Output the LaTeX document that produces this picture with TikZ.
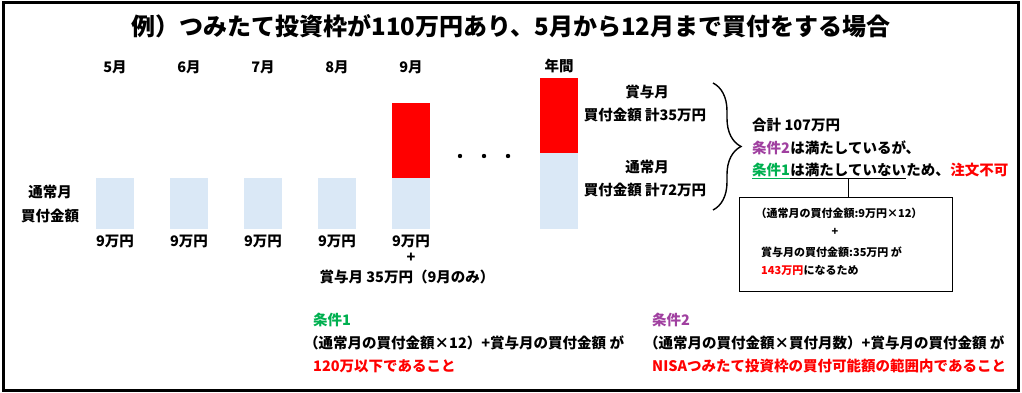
\documentclass[tikz,border=0pt]{standalone}
\usepackage{fontspec}
\setmainfont{Noto Sans CJK JP}
\usetikzlibrary{positioning,decorations.pathreplacing}
\definecolor{barblue}{RGB}{218,232,246}
\definecolor{jred}{RGB}{255,0,0}
\definecolor{jgreen}{RGB}{0,176,80}
\definecolor{jpurple}{RGB}{160,64,160}
\tikzset{
  lbl/.style={font=\bfseries\fontsize{14.5}{16}\selectfont, inner sep=0pt},
  small/.style={font=\bfseries\fontsize{11}{13}\selectfont, inner sep=0pt},
  normalbar/.style={fill=barblue, draw=none, inner sep=0pt, outer sep=0pt, minimum width=38pt},
  bonusbar/.style={fill=jred, draw=none, inner sep=0pt, outer sep=0pt, minimum width=38pt},
}
\begin{document}
\begin{tikzpicture}[x=1pt,y=-1pt]
  \useasboundingbox (0,0) rectangle (1022,393);
  \draw[line width=3pt] (3.5,2.5) rectangle (1018.5,390);
  \node[font=\bfseries\fontsize{24}{28}\selectfont] (title) at (511,26)
    {例）つみたて投資枠が110万円あり、5月から12月まで買付をする場合};

  % months
  \node[lbl] (m5) at (115,67) {5月};
  \node[lbl] (m6) at (189,67) {6月};
  \node[lbl] (m7) at (263,67) {7月};
  \node[lbl] (m8) at (337,67) {8月};
  \node[lbl] (m9) at (411,67) {9月};
  \node[lbl] (year) at (559,66) {年間};

  % bars
  \node[normalbar, minimum height=51pt] (bar5) at (115,203.5) {};
  \node[normalbar, minimum height=51pt] (bar6) at (189,203.5) {};
  \node[normalbar, minimum height=51pt] (bar7) at (263,203.5) {};
  \node[normalbar, minimum height=51pt] (bar8) at (337,203.5) {};
  \node[normalbar, minimum height=51pt] (bar9) at (411,203.5) {};
  \node[bonusbar, minimum height=75pt] (bonus9) at (411,140.5) {};
  \node[bonusbar, minimum height=75pt] (yearbonus) at (559,115.5) {};
  \node[normalbar, minimum height=76pt] (yearnormal) at (559,191) {};

  \fill (460,156) circle (2.2);
  \fill (484,156) circle (2.2);
  \fill (508,156) circle (2.2);

  \node[lbl] (normlbl1) at (50,192) {通常月};
  \node[lbl] (normlbl2) at (50,216) {買付金額};

  \node[lbl] (amt5) at (115,241) {9万円};
  \node[lbl] (amt6) at (189,241) {9万円};
  \node[lbl] (amt7) at (263,241) {9万円};
  \node[lbl] (amt8) at (337,241) {9万円};
  \node[lbl] (amt9) at (411,241) {9万円};
  \node[lbl] (amtplus) at (411,258) {+};
  \node[lbl] (amtbonus) at (407,277) {賞与月 35万円（9月のみ）};

  % yearly totals
  \node[lbl] (ybonus1) at (647,92) {賞与月};
  \node[lbl] (ybonus2) at (645,115) {買付金額 計35万円};
  \node[lbl] (ynorm1) at (647,167) {通常月};
  \node[lbl] (ynorm2) at (645,190) {買付金額 計72万円};

  \coordinate (btop) at (713,83);
  \coordinate (bbot) at (713,210);
  \draw[line width=1.4pt, decorate, decoration={brace, amplitude=28pt}] (btop) -- (bbot);

  \node[lbl, anchor=west] (total) at (752,125) {合計 107万円};
  \node[lbl, anchor=west, text=jpurple] (res2a) at (752,148) {条件2};
  \node[lbl, anchor=base west] (res2b) at (res2a.base east) {は満たしているが、};
  \node[lbl, anchor=west, text=jgreen] (res1a) at (752,170) {条件1};
  \node[lbl, anchor=base west] (res1b) at (res1a.base east) {は満たしていない};
  \node[lbl, anchor=base west] (res1c) at (res1b.base east) {ため、};
  \node[lbl, anchor=base west, text=jred] (res1d) at (res1c.base east) {注文不可};
  \draw[jgreen, line width=0.9pt] ([yshift=-1.5pt]res1a.south west) -- ([yshift=-1.5pt]res1a.south east);
  \draw[line width=0.9pt] ([yshift=-1.5pt]res1b.south west) -- ([yshift=-1.5pt]res1b.south east);

  % calculation box
  \node[draw, line width=0.8pt, minimum width=213pt, minimum height=94pt, inner sep=0pt] (calc) at (845.5,244) {};
  \coordinate (ulmid) at ([yshift=-1.5pt]res1b.south);
  \draw[line width=0.8pt] (ulmid) -- (ulmid |- calc.north);
  \node[small] (calc1) at (839,213) {（通常月の買付金額:9万円×12）};
  \node[small] (calcplus) at (835,232) {+};
  \node[small, anchor=west] (calc3) at (761,252) {賞与月の買付金額:35万円 が};
  \node[small, anchor=west, text=jred] (calc4a) at (761,271) {143万円};
  \node[small, anchor=base west] (calc4b) at (calc4a.base east) {になるため};

  % conditions
  \node[lbl, anchor=west, text=jgreen] (cond1) at (313,320) {条件1};
  \node[lbl, anchor=west] (cond1f) at (304,343) {（通常月の買付金額×12）+賞与月の買付金額 が};
  \node[lbl, anchor=west, text=jred] (cond1r) at (313,366) {120万以下であること};
  \node[lbl, anchor=west, text=jpurple] (cond2) at (652,320) {条件2};
  \node[lbl, anchor=west] (cond2f) at (644,343) {（通常月の買付金額×買付月数）+賞与月の買付金額 が};
  \node[lbl, anchor=west, text=jred] (cond2r) at (652,366) {NISAつみたて投資枠の買付可能額の範囲内であること};
\end{tikzpicture}
\end{document}
